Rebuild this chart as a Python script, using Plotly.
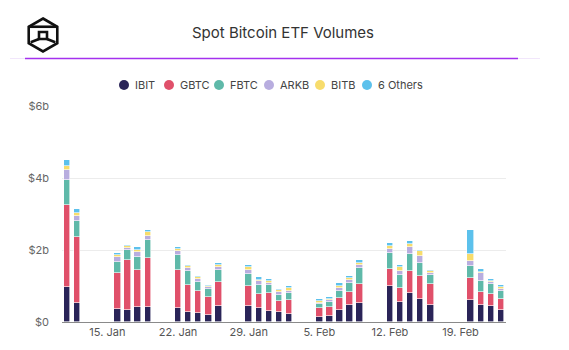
import plotly.graph_objects as go

W, H = 569, 350
ML, MR, MT, MB = 62, 63, 106, 28
PW, PH = W - ML - MR, H - MT - MB

dates = ["2024-01-11", "2024-01-12",
         "2024-01-16", "2024-01-17", "2024-01-18", "2024-01-19",
         "2024-01-22", "2024-01-23", "2024-01-24", "2024-01-25", "2024-01-26",
         "2024-01-29", "2024-01-30", "2024-01-31", "2024-02-01", "2024-02-02",
         "2024-02-05", "2024-02-06", "2024-02-07", "2024-02-08", "2024-02-09",
         "2024-02-12", "2024-02-13", "2024-02-14", "2024-02-15", "2024-02-16",
         "2024-02-20", "2024-02-21", "2024-02-22", "2024-02-23"]

ibit = [0.97, 0.54, 0.35, 0.33, 0.41, 0.41, 0.38, 0.28, 0.25, 0.19, 0.45,
        0.45, 0.38, 0.30, 0.27, 0.22, 0.14, 0.16, 0.33, 0.46, 0.54,
        0.99, 0.56, 0.81, 0.65, 0.46, 0.62, 0.48, 0.44, 0.33]
gbtc = [2.28, 1.81, 1.00, 1.39, 1.04, 1.38, 1.07, 0.76, 0.61, 0.51, 0.67,
        0.56, 0.41, 0.51, 0.31, 0.40, 0.24, 0.27, 0.33, 0.38, 0.52,
        0.47, 0.39, 0.62, 0.64, 0.59, 0.60, 0.35, 0.34, 0.31]
fbtc = [0.69, 0.46, 0.33, 0.28, 0.35, 0.49, 0.41, 0.38, 0.26, 0.22, 0.32,
        0.32, 0.25, 0.21, 0.17, 0.18, 0.11, 0.13, 0.21, 0.25, 0.43,
        0.47, 0.35, 0.45, 0.36, 0.25, 0.34, 0.31, 0.27, 0.22]
arkb = [0.28, 0.14, 0.13, 0.06, 0.14, 0.11, 0.12, 0.09, 0.08, 0.06, 0.09,
        0.12, 0.09, 0.06, 0.09, 0.07, 0.05, 0.05, 0.08, 0.08, 0.09,
        0.11, 0.13, 0.20, 0.17, 0.06, 0.14, 0.22, 0.06, 0.07]
bitb = [0.12, 0.07, 0.06, 0.05, 0.06, 0.10, 0.06, 0.05, 0.04, 0.03, 0.06,
        0.07, 0.05, 0.05, 0.04, 0.07, 0.03, 0.04, 0.06, 0.04, 0.07,
        0.07, 0.10, 0.10, 0.14, 0.05, 0.20, 0.04, 0.04, 0.03]
others = [0.16, 0.11, 0.05, 0.04, 0.09, 0.07, 0.04, 0.02, 0.03, 0.03, 0.06,
          0.05, 0.06, 0.06, 0.05, 0.05, 0.06, 0.04, 0.06, 0.07, 0.08,
          0.08, 0.06, 0.08, 0.05, 0.03, 0.65, 0.06, 0.04, 0.06]

series_names = ["IBIT", "GBTC", "FBTC", "ARKB", "BITB", "6 Others"]
series_values = [ibit, gbtc, fbtc, arkb, bitb, others]
colors = ["#2a2458", "#e0506a", "#5fb9a9", "#b8addf", "#f7dc6c", "#5cc1ec"]

x_tick_vals = ["2024-01-15", "2024-01-22", "2024-01-29", "2024-02-05", "2024-02-12", "2024-02-19"]
x_tick_text = ["15. Jan", "22. Jan", "29. Jan", "5. Feb", "12. Feb", "19. Feb"]
y_tick_vals = [0, 2, 4, 6]
y_tick_text = ["$0", "$2b", "$4b", "$6b"]

title_text = "Spot Bitcoin ETF Volumes"

DAY_MS = 86400000

fig = go.Figure()
for name, vals, col in zip(series_names, series_values, colors):
    fig.add_trace(go.Bar(
        x=dates, y=vals, name=name, width=0.64 * DAY_MS,
        marker=dict(color=col, line=dict(color="white", width=0.6)),
        showlegend=False,
    ))


def px2x(px):
    return (px - ML) / PW


def px2y(py):
    return (ML * 0 + (H - MB) - py) / PH


shapes = []
annotations = []

# custom legend with round markers
leg_marker_px = [124, 169, 219, 269, 320, 367]
leg_y = 85
for mx, name, col in zip(leg_marker_px, series_names, colors):
    shapes.append(dict(type="circle", xref="paper", yref="paper",
                       xsizemode="pixel", ysizemode="pixel",
                       xanchor=px2x(mx), yanchor=px2y(leg_y),
                       x0=-5, x1=5, y0=-5, y1=5,
                       fillcolor=col, line=dict(width=0)))
    annotations.append(dict(text=name, xref="paper", yref="paper",
                            x=px2x(mx + 9), y=px2y(leg_y), xanchor="left", yanchor="middle",
                            showarrow=False, font=dict(family="Inter, sans-serif", size=11, color="#444")))

# header separator
shapes.append(dict(type="line", xref="paper", yref="paper",
                   x0=px2x(10), x1=px2x(540), y0=px2y(58.5), y1=px2y(58.5),
                   line=dict(color="#f1e6fb", width=1)))
shapes.append(dict(type="line", xref="paper", yref="paper",
                   x0=px2x(25), x1=px2x(518), y0=px2y(58.5), y1=px2y(58.5),
                   line=dict(color="#a431ee", width=1.5)))

# logo (hexagonal cube)
import math
cx, cy, r = 43, 35, 16.5
verts = []
for ang in [90, 30, -30, -90, -150, 150]:
    a = math.radians(ang)
    verts.append((cx + r * math.cos(a), cy - r * math.sin(a)))
path = "M " + " L ".join(f"{px2x(vx)},{px2y(vy)}" for vx, vy in verts) + " Z"
logo_line = dict(color="#111", width=2.6)
shapes.append(dict(type="path", xref="paper", yref="paper", path=path, line=logo_line))
ul, ur = verts[5], verts[1]
ll, lr = verts[4], verts[2]
sq = [(cx - 4, cy - 3), (cx + 4, cy - 3), (cx + 4, cy + 4), (cx - 4, cy + 4)]
shapes.append(dict(type="path", xref="paper", yref="paper",
                   path="M " + " L ".join(f"{px2x(a)},{px2y(b)}" for a, b in sq) + " Z",
                   line=logo_line))
for (ax, ay), (bx, by) in [(ul, sq[0]), (ur, sq[1]), ((cx, cy - 3), (cx, verts[0][1] + 9))]:
    pass
shapes.append(dict(type="line", xref="paper", yref="paper",
                   x0=px2x(ul[0]), y0=px2y(ul[1]), x1=px2x(ur[0]), y1=px2y(ur[1]), line=logo_line))
shapes.append(dict(type="line", xref="paper", yref="paper",
                   x0=px2x(sq[3][0]), y0=px2y(sq[3][1]), x1=px2x(ll[0] + 2), y1=px2y(ll[1] - 1), line=logo_line))
shapes.append(dict(type="line", xref="paper", yref="paper",
                   x0=px2x(sq[2][0]), y0=px2y(sq[2][1]), x1=px2x(lr[0] - 2), y1=px2y(lr[1] - 1), line=logo_line))

fig.update_layout(
    barmode="stack",
    width=W, height=H,
    margin=dict(l=ML, r=MR, t=MT, b=MB, pad=0),
    paper_bgcolor="white", plot_bgcolor="white",
    font=dict(family="Inter, sans-serif", size=11, color="#666"),
    title=dict(text=title_text, xref="container", yref="container",
               x=283 / W, y=1 - 33 / H, xanchor="center", yanchor="middle",
               font=dict(family="Inter, sans-serif", size=15, color="#333")),
    xaxis=dict(type="date", range=["2024-01-10 12:00", "2024-02-23 12:00"],
               tickvals=x_tick_vals, ticktext=x_tick_text,
               showgrid=False, showline=True, linecolor="#8a8a8a", linewidth=1,
               ticks="", tickfont=dict(size=11, color="#555"), fixedrange=True),
    yaxis=dict(range=[0, 6], tickvals=y_tick_vals, ticktext=y_tick_text,
               showgrid=True, gridcolor="#ececec", gridwidth=1, zeroline=False,
               ticks="", ticklabelstandoff=12, tickfont=dict(size=11, color="#666"),
               fixedrange=True),
    shapes=shapes,
    annotations=annotations,
    bargap=0,
)

fig.write_html("out.html")
